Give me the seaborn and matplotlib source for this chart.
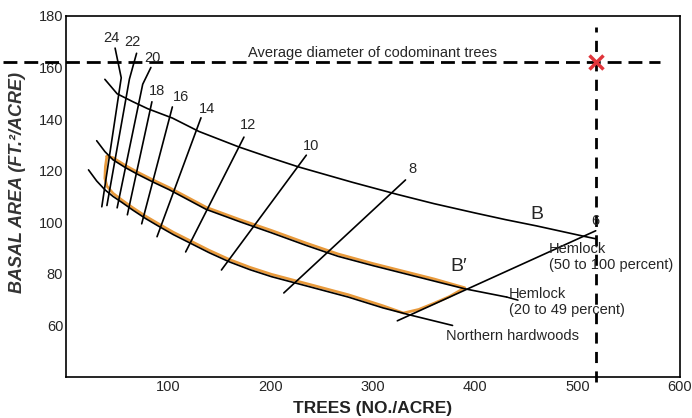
import numpy as np
import pandas as pd
import matplotlib
matplotlib.use("Agg")
import matplotlib.pyplot as plt
import seaborn as sns

# curves (trees/acre, basal area ft2/acre)
hem_hi_x = [38, 50, 65, 80, 104, 130, 169, 200, 227, 280, 324, 360, 400, 430, 460, 506, 518]
hem_hi_y = [155.4, 149.8, 146.8, 144.0, 140.4, 135.2, 129.2, 125.0, 121.5, 115.5, 110.8, 107.2, 103.6, 101.0, 98.6, 94.6, 93.6]

hem_lo_x = [30, 38, 46, 58, 70, 85, 101, 120, 137, 170, 201, 235, 266, 300, 330, 360, 390, 431]
hem_lo_y = [131.6, 127.4, 124.2, 121.2, 118.6, 115.6, 112.6, 108.6, 105.0, 100.2, 95.9, 91.0, 86.8, 83.2, 80.2, 77.2, 74.2, 71.0]

nh_x = [22, 30, 38, 46, 55, 65, 78, 90, 105, 120, 140, 160, 180, 201, 240, 276, 310, 337, 378]
nh_y = [120.3, 116.0, 112.6, 110.0, 107.6, 104.8, 101.4, 98.6, 95.2, 92.2, 88.2, 84.6, 81.6, 78.9, 74.8, 71.0, 66.8, 64.0, 60.0]

# orange outline (stocking region)
orange_x = [40, 46, 58, 70, 85, 101, 120, 137, 170, 201, 235, 266, 300, 330, 360, 390,
            375, 360, 345, 330, 310, 276, 240, 201, 180, 160, 140, 120, 105, 90, 78, 65, 55, 46, 40, 38, 38.5, 40]
orange_y = [125.6, 125.0, 122.0, 119.4, 116.4, 113.4, 109.4, 105.8, 101.0, 96.8, 91.9, 87.7, 84.0, 81.0, 78.0, 74.6,
            71.2, 68.6, 66.2, 64.8, 67.6, 71.9, 75.7, 79.8, 82.5, 85.5, 89.1, 93.1, 96.1, 99.5, 102.3, 105.7, 108.5, 111.2, 114.0, 117.0, 121.5, 125.6]

# diameter lines (inches): bottom point, top point, (lead end), label pos
diam_labels = ["24", "22", "20", "18", "16", "14", "12", "10", "8", "6"]
diam_x = [[35, 54, 48], [40, 62, 69], [50, 75, 83], [60, 84], [74, 104], [89, 132],
          [117, 174], [152, 235], [213, 332], [324, 518]]
diam_y = [[106, 156, 167.5], [106.5, 155.5, 165.5], [105.6, 153.5, 160], [102.9, 146.7], [99.4, 144.7],
          [94.4, 140.5], [88.5, 133], [81.5, 126], [72.6, 116.4], [61.8, 96.7]]
diam_lab_x = [44, 65, 85, 89, 112, 138, 178, 240, 339, 518]
diam_lab_y = [171.5, 170, 163.5, 151, 148.5, 144, 137.8, 129.5, 120.5, 100.5]

avg_trees = 518
avg_ba = 162

sns.set_style("white")
plt.rcParams["font.family"] = ["Liberation Sans", "DejaVu Sans"]

fig = plt.figure(figsize=(6.92, 4.18), dpi=100)
ax = fig.add_axes([0.0954, 0.098, 0.8866, 0.864])

# orange region first so black lines sit on top
sns.lineplot(x=orange_x, y=orange_y, sort=False, color="#e89a3c", lw=2.0, ax=ax, estimator=None)

for xs, ys in zip(diam_x, diam_y):
    sns.lineplot(x=xs, y=ys, sort=False, color="black", lw=1.2, ax=ax, estimator=None)

for xs, ys in [(hem_hi_x, hem_hi_y), (hem_lo_x, hem_lo_y), (nh_x, nh_y)]:
    sns.lineplot(x=xs, y=ys, sort=False, color="black", lw=1.2, ax=ax, estimator=None)

# leader from hemlock 20-49 curve to its label
ax.plot([431, 442], [71, 69.8], color="black", lw=1.1)

for lab, lx, ly in zip(diam_labels, diam_lab_x, diam_lab_y):
    ax.text(lx, ly, lab, fontsize=10.5, ha="center", va="center")

# average diameter reference lines
ax.plot([-62, 581], [avg_ba, avg_ba], color="black", lw=2, linestyle=(0, (5, 2.5)), clip_on=False)
ax.plot([avg_trees, avg_trees], [38, 175.5], color="black", lw=2, linestyle=(0, (4, 3)), clip_on=False)
ax.plot(avg_trees, avg_ba, marker="x", color="#e0343a", ms=10, mew=2.5)
ax.text(178, 163.0, "Average diameter of codominant trees", fontsize=10.5, va="bottom")

ax.text(460, 103, "B", fontsize=14, ha="center", va="center")
ax.text(384, 82.7, "B\u2032", fontsize=14, ha="center", va="center")
ax.text(472, 86.5, "Hemlock\n(50 to 100 percent)", fontsize=10.5, va="center", linespacing=1.15)
ax.text(433, 69.2, "Hemlock\n(20 to 49 percent)", fontsize=10.5, va="center", linespacing=1.15)
ax.text(372, 55.8, "Northern hardwoods", fontsize=10.5, va="center")

ax.set_xlim(0, 600)
ax.set_ylim(40, 180)
ax.set_xticks([100, 200, 300, 400, 500, 600])
ax.set_yticks([60, 80, 100, 120, 140, 160, 180])
ax.tick_params(direction="in", length=5, width=1, labelsize=10.5, pad=2)
for s in ax.spines.values():
    s.set_color("black")
    s.set_linewidth(1.2)

ax.set_xlabel("TREES (NO./ACRE)", fontsize=12.5, fontweight="bold", color="#222222")
ax.xaxis.set_label_coords(0.5, -0.065)
ax.set_ylabel("BASAL AREA (FT.\u00b2/ACRE)", fontsize=13, fontweight="bold", style="italic", color="#333333")
ax.yaxis.set_label_coords(-0.065, 0.54)

fig.savefig("out.png", dpi=100)
